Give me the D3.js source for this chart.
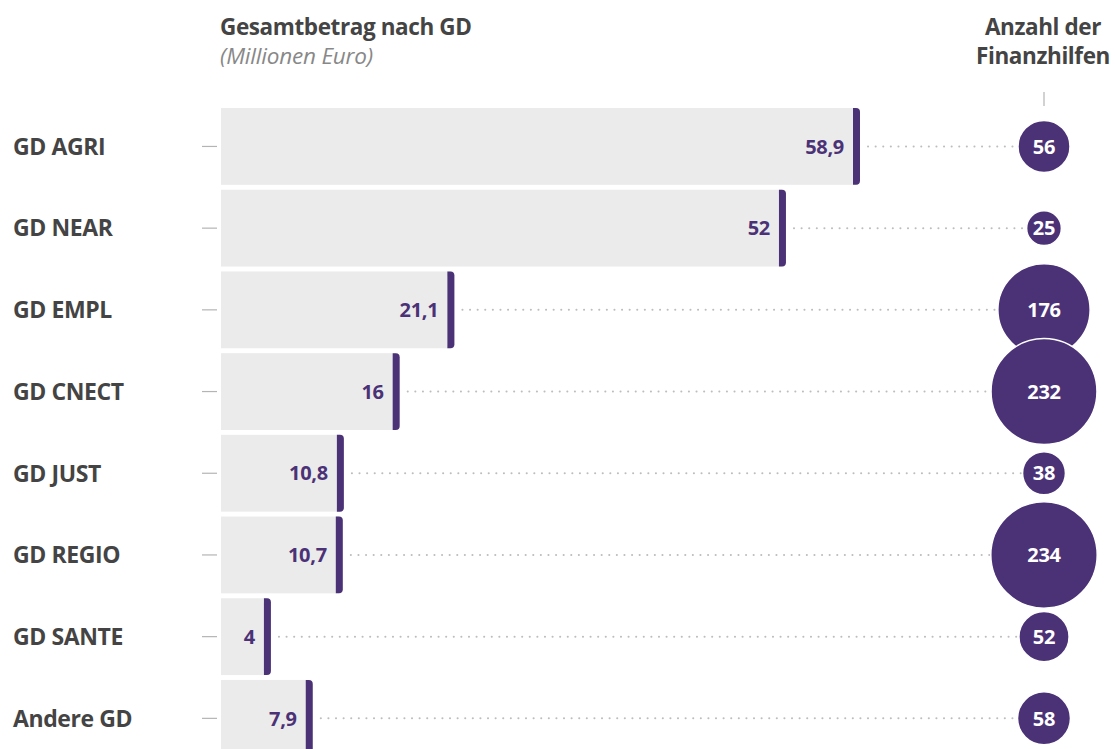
<!DOCTYPE html>
<html>
<head>
<meta charset="utf-8">
<script src="https://cdn.jsdelivr.net/npm/d3@7"></script>
<style>
  body { margin: 0; background: #fff; }
  svg { font-family: "Open Sans", Lato, sans-serif; }
</style>
</head>
<body>
<svg id="chart"></svg>
<script>
// data
const categories = ['GD AGRI', 'GD NEAR', 'GD EMPL', 'GD CNECT', 'GD JUST', 'GD REGIO', 'GD SANTE', 'Andere GD'];
const amounts = [58.9, 52, 21.1, 16, 10.8, 10.7, 4, 7.9];
const amountLabels = ['58,9', '52', '21,1', '16', '10,8', '10,7', '4', '7,9'];
const counts = [56, 25, 176, 232, 38, 234, 52, 58];

const width = 1115, height = 749;
const purple = '#4b3277';
const dark = '#444';

const data = categories.map((c, i) => ({name: c, amount: amounts[i], label: amountLabels[i], count: counts[i]}));

const svg = d3.select('#chart')
    .attr('width', width)
    .attr('height', height);

// scales
const xScale = d3.scaleLinear()
    .domain([0, 58.9])
    .range([221, 853]);

const yScale = d3.scaleBand()
    .domain(categories)
    .range([105.6, 759.2])
    .paddingInner(0.06)
    .paddingOuter(0.03);

const rScale = d3.scaleSqrt()
    .domain([0, 234])
    .range([0, 53.2]);

const circleX = 1044;
const capW = 7;

// headers
svg.append('text')
    .attr('x', 220).attr('y', 35)
    .attr('fill', dark)
    .style('font-weight', 700)
    .style('font-size', '22.5px')
    .style('letter-spacing', '-0.4px')
    .text('Gesamtbetrag nach GD');

svg.append('text')
    .attr('x', 220).attr('y', 64)
    .attr('fill', '#888')
    .style('font-style', 'italic')
    .style('font-size', '22.5px')
    .style('letter-spacing', '-0.2px')
    .text('(Millionen Euro)');

svg.append('text')
    .attr('x', 1043).attr('y', 35)
    .attr('fill', dark)
    .attr('text-anchor', 'middle')
    .style('font-weight', 700)
    .style('font-size', '22.5px')
    .style('letter-spacing', '-0.4px')
    .text('Anzahl der');

svg.append('text')
    .attr('x', 1043).attr('y', 64)
    .attr('fill', dark)
    .attr('text-anchor', 'middle')
    .style('font-weight', 700)
    .style('font-size', '22.5px')
    .style('letter-spacing', '-0.4px')
    .text('Finanzhilfen');

svg.append('line')
    .attr('x1', circleX).attr('x2', circleX)
    .attr('y1', 92).attr('y2', 106)
    .attr('stroke', '#b4b4b4').attr('stroke-width', 1.2);

const rows = svg.selectAll('.row')
    .data(data)
  .join('g')
    .attr('class', 'row');

const cy = d => yScale(d.name) + yScale.bandwidth() / 2;

// category labels + small ticks
rows.append('text')
    .attr('x', 13)
    .attr('y', cy)
    .attr('dy', '0.36em')
    .attr('fill', dark)
    .style('font-weight', 700)
    .style('font-size', '23px')
    .style('letter-spacing', '-0.4px')
    .text(d => d.name);

rows.append('line')
    .attr('x1', 202).attr('x2', 217)
    .attr('y1', cy).attr('y2', cy)
    .attr('stroke', '#b4b4b4').attr('stroke-width', 1.2);

// grey bars
rows.append('rect')
    .attr('x', xScale(0))
    .attr('y', d => yScale(d.name))
    .attr('width', d => xScale(d.amount) + capW - xScale(0) - 2)
    .attr('height', yScale.bandwidth())
    .attr('fill', '#ebebeb');

// purple caps with rounded right corners
rows.append('path')
    .attr('d', d => {
      const x0 = xScale(d.amount), y0 = yScale(d.name), h = yScale.bandwidth(), r = 4;
      return `M${x0},${y0} H${x0 + capW - r} Q${x0 + capW},${y0} ${x0 + capW},${y0 + r} ` +
             `V${y0 + h - r} Q${x0 + capW},${y0 + h} ${x0 + capW - r},${y0 + h} H${x0} Z`;
    })
    .attr('fill', purple);

// value labels
rows.append('text')
    .attr('x', d => xScale(d.amount) - 9)
    .attr('y', cy)
    .attr('dy', '0.36em')
    .attr('text-anchor', 'end')
    .attr('fill', purple)
    .style('font-weight', 700)
    .style('font-size', '20px')
    .style('letter-spacing', '-0.3px')
    .text(d => d.label);

// dotted connectors
rows.append('line')
    .attr('x1', d => xScale(d.amount) + capW + 8)
    .attr('x2', circleX)
    .attr('y1', cy).attr('y2', cy)
    .attr('stroke', '#bdbdbd')
    .attr('stroke-width', 2)
    .attr('stroke-linecap', 'round')
    .attr('stroke-dasharray', '0.1,7.5');

// circles
rows.append('circle')
    .attr('cx', circleX)
    .attr('cy', cy)
    .attr('r', d => rScale(d.count))
    .attr('fill', purple)
    .attr('stroke', '#fff')
    .attr('stroke-width', 1.5);

rows.append('text')
    .attr('x', circleX)
    .attr('y', cy)
    .attr('dy', '0.36em')
    .attr('text-anchor', 'middle')
    .attr('fill', '#fff')
    .style('font-weight', 700)
    .style('font-size', '20px')
    .style('letter-spacing', '-0.3px')
    .text(d => d.count);
</script>
</body>
</html>
